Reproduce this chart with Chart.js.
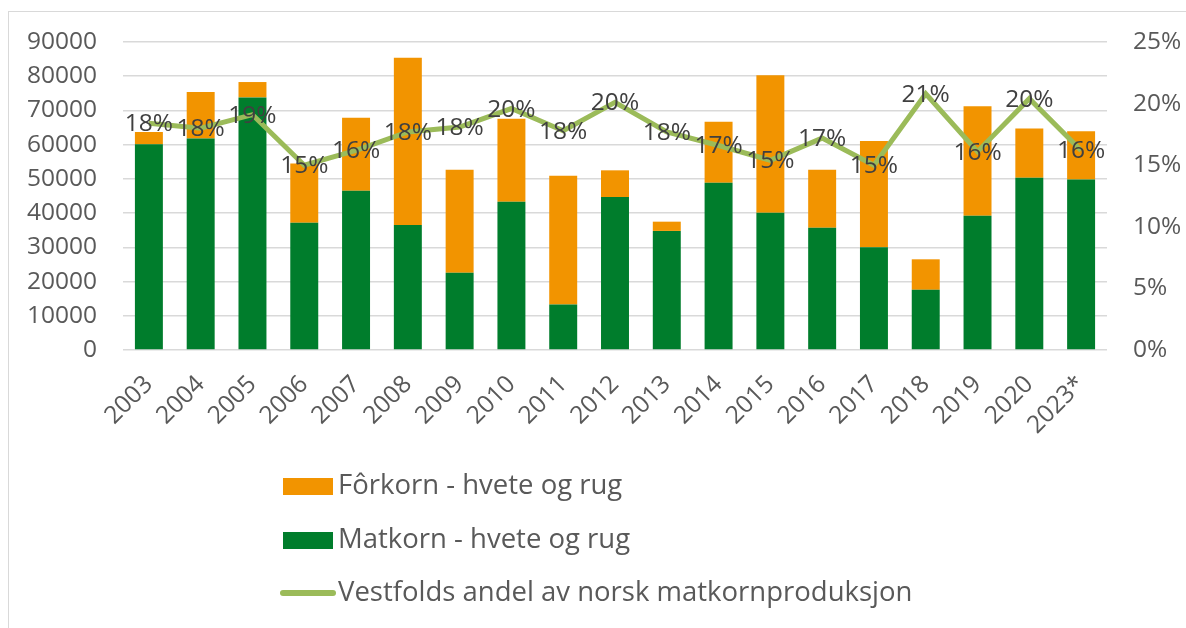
<!DOCTYPE html>
<html>
<head>
<meta charset="utf-8">
<script src="https://cdn.jsdelivr.net/npm/chart.js@4"></script>
<style>
  html, body { margin: 0; padding: 0; background: #fff; overflow: hidden; }
  #wrap { position: relative; width: 1186px; height: 628px; }
  #frame { position: absolute; left: 8px; top: 11px; width: 1200px; height: 700px; border: 1px solid #d9d9d9; box-sizing: border-box; }
  canvas { position: absolute; left: 0; top: 0; }
</style>
</head>
<body>
<div id="wrap">
  <div id="frame"></div>
  <canvas id="kornChart" width="1186" height="628"></canvas>
</div>
<script>
const years = ["2003", "2004", "2005", "2006", "2007", "2008", "2009", "2010", "2011", "2012",
  "2013", "2014", "2015", "2016", "2017", "2018", "2019", "2020", "2023*"];
const matkorn = [60100, 61800, 73800, 37200, 46500, 36500, 22600, 43300, 13300, 44700,
  34800, 48900, 40100, 35700, 30000, 17600, 39200, 50300, 49800];
const forkorn = [3600, 13600, 4500, 17300, 21400, 48900, 30100, 24300, 37600, 7800,
  2700, 17800, 40200, 17000, 31100, 8900, 32000, 14400, 14100];
const andel = [18.4, 18.0, 19.1, 15.0, 16.2, 17.7, 18.1, 19.6, 17.8, 20.1,
  17.7, 16.6, 15.4, 17.2, 15.0, 20.8, 16.1, 20.4, 16.2];
const leftTicks = [0, 10000, 20000, 30000, 40000, 50000, 60000, 70000, 80000, 90000];
const rightTicks = [0, 5, 10, 15, 20, 25];

const FONT = "'Open Sans'";
const TEXT = "#595959";

// percentage labels centred on the line points
const lineLabels = {
  id: "lineLabels",
  afterDatasetsDraw(chart) {
    const ctx = chart.ctx;
    const meta = chart.getDatasetMeta(2);
    ctx.save();
    ctx.font = "24.5px " + FONT;
    ctx.fillStyle = "#404040";
    ctx.textAlign = "center";
    ctx.textBaseline = "middle";
    meta.data.forEach((pt, i) => {
      ctx.fillText(Math.round(andel[i]) + "%", pt.x, pt.y + 1);
    });
    ctx.restore();
  }
};

// vertical legend below the axis, left aligned
const stackedLegend = {
  id: "stackedLegend",
  afterDraw(chart) {
    const ctx = chart.ctx;
    const items = [chart.data.datasets[1], chart.data.datasets[0], chart.data.datasets[2]];
    const x = 283, rows = [486, 540, 593];
    ctx.save();
    ctx.font = "27.5px " + FONT;
    ctx.textBaseline = "middle";
    items.forEach((ds, i) => {
      const y = rows[i];
      if (ds.type === "line") {
        ctx.strokeStyle = ds.borderColor;
        ctx.lineWidth = 6;
        ctx.lineCap = "round";
        ctx.beginPath();
        ctx.moveTo(x, y);
        ctx.lineTo(x + 50, y);
        ctx.stroke();
      } else {
        ctx.fillStyle = ds.backgroundColor;
        ctx.fillRect(x, y - 8, 50, 17);
      }
      ctx.fillStyle = TEXT;
      ctx.fillText(ds.label, x + 55, y);
    });
    ctx.restore();
  }
};

const ctx = document.getElementById("kornChart").getContext("2d");
new Chart(ctx, {
  data: {
    labels: years,
    datasets: [
      {
        type: "bar",
        label: "Matkorn - hvete og rug",
        data: matkorn,
        backgroundColor: "#007d2c",
        stack: "korn",
        yAxisID: "y",
        order: 1
      },
      {
        type: "bar",
        label: "Fôrkorn - hvete og rug",
        data: forkorn,
        backgroundColor: "#f29400",
        stack: "korn",
        yAxisID: "y",
        order: 1
      },
      {
        type: "line",
        label: "Vestfolds andel av norsk matkornproduksjon",
        data: andel,
        borderColor: "#9bbb59",
        borderWidth: 5,
        pointRadius: 0,
        tension: 0,
        yAxisID: "y1",
        order: 0
      }
    ]
  },
  options: {
    responsive: false,
    animation: false,
    datasets: { bar: { categoryPercentage: 1, barPercentage: 0.54 } },
    layout: { padding: { top: 42, bottom: 188, left: 0, right: 0 } },
    plugins: { legend: { display: false }, tooltip: { enabled: false } },
    scales: {
      x: {
        stacked: true,
        grid: { display: false },
        border: { display: false },
        ticks: {
          color: TEXT, font: { family: FONT, size: 24.5 },
          minRotation: 45, maxRotation: 45, padding: 12, autoSkip: false
        },
        afterFit(scale) { scale.height = 90; }
      },
      y: {
        stacked: true,
        position: "left",
        min: 0, max: 90000,
        afterBuildTicks(scale) { scale.ticks = leftTicks.map(v => ({ value: v })); },
        grid: { color: "#d9d9d9", lineWidth: 1.5, drawTicks: false },
        border: { display: false },
        ticks: { color: TEXT, font: { family: FONT, size: 24.5 }, padding: 26, callback: v => String(v) },
        afterFit(scale) { scale.width = 123; }
      },
      y1: {
        position: "right",
        min: 0, max: 25,
        afterBuildTicks(scale) { scale.ticks = rightTicks.map(v => ({ value: v })); },
        grid: { display: false, drawTicks: false },
        border: { display: false },
        ticks: { color: TEXT, font: { family: FONT, size: 24.5 }, padding: 26, callback: v => v + "%" },
        afterFit(scale) { scale.width = 79; }
      }
    }
  },
  plugins: [lineLabels, stackedLegend]
});
</script>
</body>
</html>
